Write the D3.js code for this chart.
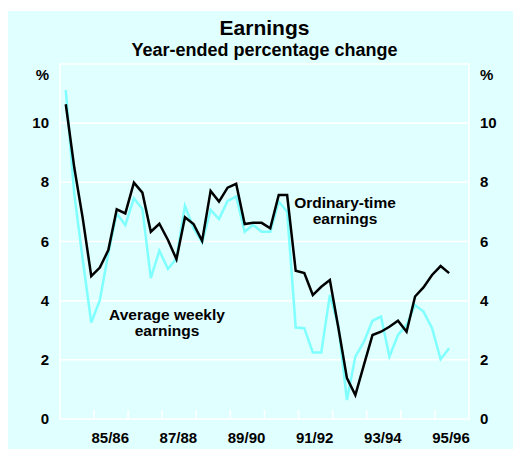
<!DOCTYPE html>
<html>
<head>
<meta charset="utf-8">
<script src="https://cdn.jsdelivr.net/npm/d3@7"></script>
<style>
  body { margin: 0; background: #fff; }
  text { font-family: "Liberation Sans", Arial, sans-serif; font-weight: bold; fill: #000; }
</style>
</head>
<body>
<div id="chart-container"></div>
<script>
// quarterly, Sep 1984 to Dec 1995
const ordinaryTime = [10.64, 8.5, 6.8, 4.83, 5.12, 5.71, 7.09, 6.95, 7.99, 7.65,
  6.33, 6.60, 6.05, 5.40, 6.82, 6.59, 6.02, 7.71, 7.35, 7.82,
  7.95, 6.59, 6.63, 6.63, 6.45, 7.57, 7.57, 5.01, 4.93, 4.19,
  4.47, 4.70, 3.07, 1.38, 0.81, 1.83, 2.84, 2.95, 3.12, 3.32,
  2.95, 4.14, 4.45, 4.87, 5.17, 4.93];
const averageWeekly = [11.12, 7.6, 5.4, 3.26, 4.02, 5.6, 6.95, 6.56, 7.46, 7.10,
  4.76, 5.69, 5.07, 5.43, 7.21, 6.45, 5.97, 7.07, 6.76, 7.37,
  7.52, 6.33, 6.56, 6.33, 6.33, 7.35, 7.01, 3.09, 3.07, 2.25,
  2.25, 4.19, 3.12, 0.64, 2.11, 2.61, 3.32, 3.46, 2.11, 2.84,
  3.18, 3.85, 3.63, 3.07, 2.02, 2.39];
const xLabels = ["85/86", "87/88", "89/90", "91/92", "93/94", "95/96"];
const yTicks = [0, 2, 4, 6, 8, 10];

const margin = {top: 64, right: 44, bottom: 30, left: 60};
const width = 513 - margin.left - margin.right;
const height = 449 - margin.top - margin.bottom;

const quarter = i => new Date(1984, 8 + 3 * i, 1);

const x = d3.scaleTime()
    .domain([new Date(1984, 6, 1), new Date(1996, 6, 1)])
    .range([0, width]);

const y = d3.scaleLinear()
    .domain([0, 12])
    .range([height, 0]);

const root = d3.select("#chart-container")
    .append("svg")
    .attr("width", 513)
    .attr("height", 449);

root.append("rect")
    .attr("x", 8).attr("y", 11)
    .attr("width", 505).attr("height", 438)
    .attr("fill", "#e0ffff");

root.append("text")
    .attr("x", margin.left + width / 2).attr("y", 35)
    .attr("text-anchor", "middle")
    .style("font-size", "21px")
    .text("Earnings");

root.append("text")
    .attr("x", margin.left + width / 2).attr("y", 56)
    .attr("text-anchor", "middle")
    .style("font-size", "18px")
    .text("Year-ended percentage change");

const svg = root.append("g")
    .attr("transform", `translate(${margin.left},${margin.top})`);

// grid
svg.selectAll(".grid")
    .data(yTicks.filter(d => d > 0))
    .join("line")
    .attr("x1", 0).attr("x2", width)
    .attr("y1", d => y(d)).attr("y2", d => y(d))
    .attr("stroke", "#fff")
    .attr("stroke-width", 1.5);

svg.append("rect")
    .attr("width", width).attr("height", height)
    .attr("fill", "none")
    .attr("stroke", "#fff")
    .attr("stroke-width", 1.5);

// bottom ticks (July each year)
const yearTicks = d3.range(1985, 1996).map(yr => new Date(yr, 6, 1));
svg.selectAll(".xtick")
    .data(yearTicks)
    .join("line")
    .attr("x1", d => x(d)).attr("x2", d => x(d))
    .attr("y1", height).attr("y2", height - 9)
    .attr("stroke", "#fff")
    .attr("stroke-width", 1.5);

// labels sit mid-year (January of the second year)
svg.selectAll(".xlabel")
    .data(xLabels)
    .join("text")
    .attr("x", d => x(new Date(1900 + +d.slice(3), 0, 1)) - 1)
    .attr("y", height + 24)
    .attr("text-anchor", "middle")
    .style("font-size", "15px")
    .text(d => d);

// y labels both sides
svg.selectAll(".yl")
    .data(yTicks)
    .join("text")
    .attr("x", -11)
    .attr("y", d => y(d) + 5)
    .attr("text-anchor", "end")
    .style("font-size", "15px")
    .text(d => d);

svg.selectAll(".yr")
    .data(yTicks)
    .join("text")
    .attr("x", width + 11)
    .attr("y", d => y(d) + 5)
    .style("font-size", "15px")
    .text(d => d);

svg.append("text").attr("x", -11).attr("y", 16).attr("text-anchor", "end")
    .style("font-size", "15px").text("%");
svg.append("text").attr("x", width + 11).attr("y", 16)
    .style("font-size", "15px").text("%");

const line = d3.line()
    .x((d, i) => x(quarter(i)))
    .y(d => y(d));

svg.append("path")
    .datum(averageWeekly)
    .attr("fill", "none")
    .attr("stroke", "#80ffff")
    .attr("stroke-width", 2.5)
    .attr("d", line);

svg.append("path")
    .datum(ordinaryTime)
    .attr("fill", "none")
    .attr("stroke", "#000")
    .attr("stroke-width", 2.5)
    .attr("d", line);

// annotations
const ot = svg.append("text").attr("text-anchor", "middle").style("font-size", "15.5px");
ot.append("tspan").attr("x", 345 - margin.left).attr("y", 208 - margin.top).text("Ordinary-time");
ot.append("tspan").attr("x", 345 - margin.left).attr("y", 224 - margin.top).text("earnings");

const aw = svg.append("text").attr("text-anchor", "middle").style("font-size", "15.5px");
aw.append("tspan").attr("x", 167 - margin.left).attr("y", 320 - margin.top).text("Average weekly");
aw.append("tspan").attr("x", 167 - margin.left).attr("y", 336 - margin.top).text("earnings");
</script>
</body>
</html>
